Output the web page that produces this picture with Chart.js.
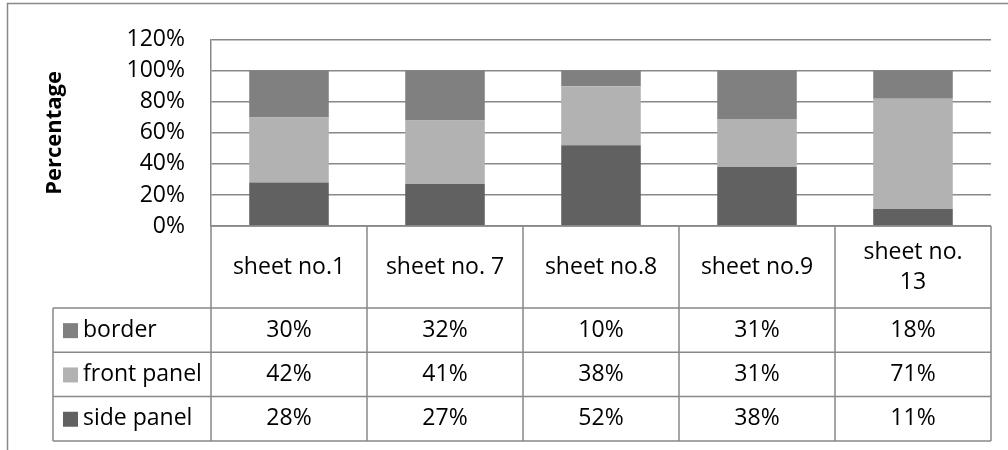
<!DOCTYPE html>
<html>
<head>
<meta charset="utf-8">
<script src="https://cdn.jsdelivr.net/npm/chart.js@4"></script>
<style>
  body { margin: 0; background: #fff; }
  canvas { display: block; }
</style>
</head>
<body>
<canvas id="chart" width="1008" height="450"></canvas>
<script>
// Data
const categories = ['sheet no.1', 'sheet no. 7', 'sheet no.8', 'sheet no.9', ['sheet no.', '13']];
const border = [30, 32, 10, 31, 18];
const frontPanel = [42, 41, 38, 31, 71];
const sidePanel = [28, 27, 52, 38, 11];
const yTicks = [0, 20, 40, 60, 80, 100, 120];

const FONT = '"Open Sans"';
const lineColor = '#888888';

// Frame round the chart + data table under the plot
const tablePlugin = {
  id: 'dataTable',
  beforeDraw(chart) {
    const ctx = chart.ctx;
    ctx.save();
    ctx.strokeStyle = lineColor;
    ctx.lineWidth = 1.5;
    ctx.beginPath();
    ctx.moveTo(7.5, 450);
    ctx.lineTo(7.5, 3.5);
    ctx.lineTo(1008, 3.5);
    ctx.stroke();
    ctx.restore();
  },
  afterDraw(chart) {
    const { ctx, chartArea } = chart;
    const x = chart.scales.x;
    const n = categories.length;
    const cellW = (chartArea.right - chartArea.left) / n;
    const top = chartArea.bottom;
    const headerH = 82;
    const rowH = 44.3;
    const legendLeft = 53;
    const rows = chart.data.datasets.slice().reverse();
    const bottom = top + headerH + rowH * rows.length;

    ctx.save();
    ctx.strokeStyle = lineColor;
    ctx.lineWidth = 1.5;
    ctx.beginPath();
    // vertical lines between categories
    for (let i = 0; i <= n; i++) {
      const px = x.getPixelForValue(i) - cellW / 2;
      ctx.moveTo(px, top);
      ctx.lineTo(px, bottom);
    }
    // legend column left edge
    ctx.moveTo(legendLeft, top + headerH);
    ctx.lineTo(legendLeft, bottom);
    // horizontal lines
    for (let r = 0; r <= rows.length; r++) {
      const py = top + headerH + r * rowH;
      ctx.moveTo(legendLeft, py);
      ctx.lineTo(chartArea.right, py);
    }
    ctx.moveTo(chartArea.left, top);
    ctx.lineTo(chartArea.right, top);
    ctx.stroke();

    ctx.fillStyle = '#000';
    ctx.font = '23px ' + FONT;
    ctx.textAlign = 'center';
    ctx.textBaseline = 'middle';
    // header labels
    categories.forEach((label, i) => {
      const lines = Array.isArray(label) ? label : [label];
      const cx = x.getPixelForValue(i);
      const lh = 30;
      const y0 = top + headerH / 2 - (lines.length - 1) * lh / 2;
      lines.forEach((t, k) => ctx.fillText(t, cx, y0 + k * lh));
    });
    // rows
    rows.forEach((ds, r) => {
      const cy = top + headerH + r * rowH + rowH / 2;
      ctx.fillStyle = ds.backgroundColor;
      ctx.fillRect(legendLeft + 10, cy - 7, 15, 15);
      ctx.fillStyle = '#000';
      ctx.textAlign = 'left';
      ctx.fillText(ds.label, legendLeft + 30, cy);
      ctx.textAlign = 'center';
      ds.data.forEach((v, i) => {
        ctx.fillText(v + '%', x.getPixelForValue(i), cy);
      });
    });
    ctx.restore();
  }
};

new Chart(document.getElementById('chart'), {
  type: 'bar',
  data: {
    labels: categories,
    datasets: [
      { label: 'side panel', data: sidePanel, backgroundColor: '#616161' },
      { label: 'front panel', data: frontPanel, backgroundColor: '#b2b2b2' },
      { label: 'border', data: border, backgroundColor: '#808080' }
    ]
  },
  options: {
    responsive: false,
    animation: false,
    layout: { padding: { left: 0, top: 33, right: 17, bottom: 224 } },
    datasets: { bar: { categoryPercentage: 1, barPercentage: 0.51 } },
    plugins: { legend: { display: false }, tooltip: { enabled: false } },
    scales: {
      x: { stacked: true, display: false },
      y: {
        stacked: true,
        min: 0,
        max: 120,
        afterBuildTicks(scale) { scale.ticks = yTicks.map(v => ({ value: v })); },
        afterFit(scale) { scale.width = 211; },
        grid: { color: lineColor, lineWidth: 1.5, drawTicks: false },
        border: { color: lineColor, width: 1.5 },
        ticks: {
          padding: 26,
          color: '#000',
          font: { family: FONT, size: 23 },
          callback: v => v + '%'
        },
        title: {
          display: true,
          text: 'Percentage',
          color: '#000',
          font: { family: FONT, size: 22, weight: 'bold' },
          padding: { top: 42, bottom: 0 }
        }
      }
    }
  },
  plugins: [tablePlugin]
});
</script>
</body>
</html>
